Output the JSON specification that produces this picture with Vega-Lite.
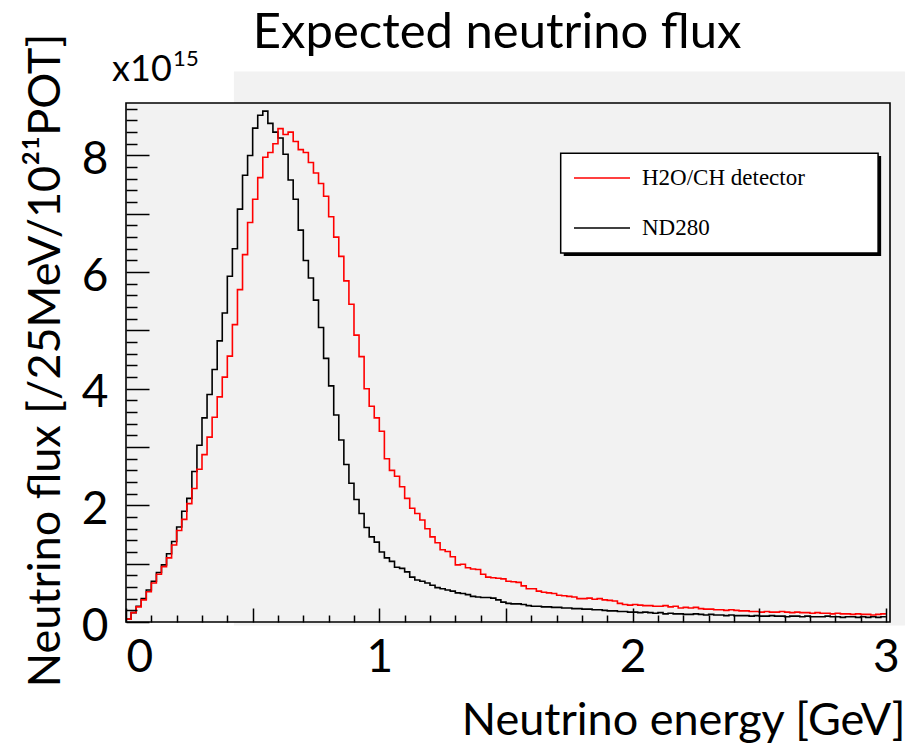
{
  "$schema": "https://vega.github.io/schema/vega-lite/v6.json",
  "width": 764,
  "height": 519,
  "autosize": "none",
  "padding": {"left": 126, "top": 103, "right": 16, "bottom": 124},
  "background": "white",
  "config": {
    "view": {"fill": "#f2f2f2", "stroke": null},
    "font": "Lato"
  },
  "datasets": {
    "flux": [
      {"e":0,"f":0.05,"s":"ND280"},{"e":0.02,"f":0.16,"s":"ND280"},{"e":0.04,"f":0.27,"s":"ND280"},{"e":0.06,"f":0.40,"s":"ND280"},{"e":0.08,"f":0.55,"s":"ND280"},
      {"e":0.1,"f":0.70,"s":"ND280"},{"e":0.12,"f":0.85,"s":"ND280"},{"e":0.14,"f":0.98,"s":"ND280"},{"e":0.16,"f":1.17,"s":"ND280"},{"e":0.18,"f":1.38,"s":"ND280"},
      {"e":0.2,"f":1.63,"s":"ND280"},{"e":0.22,"f":1.90,"s":"ND280"},{"e":0.24,"f":2.12,"s":"ND280"},{"e":0.26,"f":2.58,"s":"ND280"},{"e":0.28,"f":3.03,"s":"ND280"},
      {"e":0.3,"f":3.50,"s":"ND280"},{"e":0.32,"f":3.90,"s":"ND280"},{"e":0.34,"f":4.33,"s":"ND280"},{"e":0.36,"f":4.82,"s":"ND280"},{"e":0.38,"f":5.30,"s":"ND280"},
      {"e":0.4,"f":5.93,"s":"ND280"},{"e":0.42,"f":6.40,"s":"ND280"},{"e":0.44,"f":7.08,"s":"ND280"},{"e":0.46,"f":7.66,"s":"ND280"},{"e":0.48,"f":8.00,"s":"ND280"},
      {"e":0.5,"f":8.47,"s":"ND280"},{"e":0.52,"f":8.69,"s":"ND280"},{"e":0.54,"f":8.76,"s":"ND280"},{"e":0.56,"f":8.55,"s":"ND280"},{"e":0.58,"f":8.40,"s":"ND280"},
      {"e":0.6,"f":8.30,"s":"ND280"},{"e":0.62,"f":8.02,"s":"ND280"},{"e":0.64,"f":7.58,"s":"ND280"},{"e":0.66,"f":7.25,"s":"ND280"},{"e":0.68,"f":6.72,"s":"ND280"},
      {"e":0.7,"f":6.20,"s":"ND280"},{"e":0.72,"f":5.90,"s":"ND280"},{"e":0.74,"f":5.52,"s":"ND280"},{"e":0.76,"f":5.05,"s":"ND280"},{"e":0.78,"f":4.52,"s":"ND280"},
      {"e":0.8,"f":4.05,"s":"ND280"},{"e":0.82,"f":3.55,"s":"ND280"},{"e":0.84,"f":3.12,"s":"ND280"},{"e":0.86,"f":2.70,"s":"ND280"},{"e":0.88,"f":2.38,"s":"ND280"},
      {"e":0.9,"f":2.10,"s":"ND280"},{"e":0.92,"f":1.86,"s":"ND280"},{"e":0.94,"f":1.62,"s":"ND280"},{"e":0.96,"f":1.46,"s":"ND280"},{"e":0.98,"f":1.37,"s":"ND280"},
      {"e":1.0,"f":1.20,"s":"ND280"},{"e":1.02,"f":1.10,"s":"ND280"},{"e":1.04,"f":1.04,"s":"ND280"},{"e":1.06,"f":0.94,"s":"ND280"},{"e":1.08,"f":0.92,"s":"ND280"},
      {"e":1.1,"f":0.86,"s":"ND280"},{"e":1.12,"f":0.77,"s":"ND280"},{"e":1.14,"f":0.72,"s":"ND280"},{"e":1.16,"f":0.70,"s":"ND280"},{"e":1.18,"f":0.67,"s":"ND280"},
      {"e":1.2,"f":0.63,"s":"ND280"},{"e":1.22,"f":0.59,"s":"ND280"},{"e":1.24,"f":0.57,"s":"ND280"},{"e":1.26,"f":0.55,"s":"ND280"},{"e":1.28,"f":0.53,"s":"ND280"},
      {"e":1.3,"f":0.50,"s":"ND280"},{"e":1.32,"f":0.49,"s":"ND280"},{"e":1.34,"f":0.47,"s":"ND280"},{"e":1.36,"f":0.44,"s":"ND280"},{"e":1.38,"f":0.43,"s":"ND280"},
      {"e":1.4,"f":0.42,"s":"ND280"},{"e":1.42,"f":0.42,"s":"ND280"},{"e":1.44,"f":0.41,"s":"ND280"},{"e":1.46,"f":0.38,"s":"ND280"},{"e":1.48,"f":0.34,"s":"ND280"},
      {"e":1.5,"f":0.32,"s":"ND280"},{"e":1.52,"f":0.31,"s":"ND280"},{"e":1.54,"f":0.31,"s":"ND280"},{"e":1.56,"f":0.30,"s":"ND280"},{"e":1.58,"f":0.28,"s":"ND280"},
      {"e":1.6,"f":0.27,"s":"ND280"},{"e":1.62,"f":0.27,"s":"ND280"},{"e":1.64,"f":0.26,"s":"ND280"},{"e":1.66,"f":0.26,"s":"ND280"},{"e":1.68,"f":0.25,"s":"ND280"},
      {"e":1.7,"f":0.25,"s":"ND280"},{"e":1.72,"f":0.24,"s":"ND280"},{"e":1.74,"f":0.24,"s":"ND280"},{"e":1.76,"f":0.23,"s":"ND280"},{"e":1.78,"f":0.23,"s":"ND280"},
      {"e":1.8,"f":0.22,"s":"ND280"},{"e":1.82,"f":0.22,"s":"ND280"},{"e":1.84,"f":0.21,"s":"ND280"},{"e":1.86,"f":0.21,"s":"ND280"},{"e":1.88,"f":0.20,"s":"ND280"},
      {"e":1.9,"f":0.19,"s":"ND280"},{"e":1.92,"f":0.19,"s":"ND280"},{"e":1.94,"f":0.18,"s":"ND280"},{"e":1.96,"f":0.18,"s":"ND280"},{"e":1.98,"f":0.17,"s":"ND280"},
      {"e":2.0,"f":0.17,"s":"ND280"},{"e":2.02,"f":0.16,"s":"ND280"},{"e":2.04,"f":0.17,"s":"ND280"},{"e":2.06,"f":0.16,"s":"ND280"},{"e":2.08,"f":0.15,"s":"ND280"},
      {"e":2.1,"f":0.16,"s":"ND280"},{"e":2.12,"f":0.14,"s":"ND280"},{"e":2.14,"f":0.15,"s":"ND280"},{"e":2.16,"f":0.14,"s":"ND280"},{"e":2.18,"f":0.14,"s":"ND280"},
      {"e":2.2,"f":0.13,"s":"ND280"},{"e":2.22,"f":0.13,"s":"ND280"},{"e":2.24,"f":0.14,"s":"ND280"},{"e":2.26,"f":0.13,"s":"ND280"},{"e":2.28,"f":0.12,"s":"ND280"},
      {"e":2.3,"f":0.13,"s":"ND280"},{"e":2.32,"f":0.12,"s":"ND280"},{"e":2.34,"f":0.12,"s":"ND280"},{"e":2.36,"f":0.11,"s":"ND280"},{"e":2.38,"f":0.12,"s":"ND280"},
      {"e":2.4,"f":0.11,"s":"ND280"},{"e":2.42,"f":0.11,"s":"ND280"},{"e":2.44,"f":0.11,"s":"ND280"},{"e":2.46,"f":0.10,"s":"ND280"},{"e":2.48,"f":0.11,"s":"ND280"},
      {"e":2.5,"f":0.10,"s":"ND280"},{"e":2.52,"f":0.10,"s":"ND280"},{"e":2.54,"f":0.11,"s":"ND280"},{"e":2.56,"f":0.10,"s":"ND280"},{"e":2.58,"f":0.10,"s":"ND280"},
      {"e":2.6,"f":0.09,"s":"ND280"},{"e":2.62,"f":0.10,"s":"ND280"},{"e":2.64,"f":0.10,"s":"ND280"},{"e":2.66,"f":0.09,"s":"ND280"},{"e":2.68,"f":0.10,"s":"ND280"},
      {"e":2.7,"f":0.09,"s":"ND280"},{"e":2.72,"f":0.09,"s":"ND280"},{"e":2.74,"f":0.09,"s":"ND280"},{"e":2.76,"f":0.10,"s":"ND280"},{"e":2.78,"f":0.09,"s":"ND280"},
      {"e":2.8,"f":0.09,"s":"ND280"},{"e":2.82,"f":0.08,"s":"ND280"},{"e":2.84,"f":0.09,"s":"ND280"},{"e":2.86,"f":0.09,"s":"ND280"},{"e":2.88,"f":0.08,"s":"ND280"},
      {"e":2.9,"f":0.09,"s":"ND280"},{"e":2.92,"f":0.08,"s":"ND280"},{"e":2.94,"f":0.09,"s":"ND280"},{"e":2.96,"f":0.08,"s":"ND280"},{"e":2.98,"f":0.09,"s":"ND280"},
      {"e":3.0,"f":0.09,"s":"ND280"},
      {"e":0,"f":0.05,"s":"H2O/CH detector"},{"e":0.02,"f":0.16,"s":"H2O/CH detector"},{"e":0.04,"f":0.26,"s":"H2O/CH detector"},{"e":0.06,"f":0.38,"s":"H2O/CH detector"},{"e":0.08,"f":0.52,"s":"H2O/CH detector"},
      {"e":0.1,"f":0.67,"s":"H2O/CH detector"},{"e":0.12,"f":0.82,"s":"H2O/CH detector"},{"e":0.14,"f":0.95,"s":"H2O/CH detector"},{"e":0.16,"f":1.10,"s":"H2O/CH detector"},{"e":0.18,"f":1.32,"s":"H2O/CH detector"},
      {"e":0.2,"f":1.57,"s":"H2O/CH detector"},{"e":0.22,"f":1.76,"s":"H2O/CH detector"},{"e":0.24,"f":2.03,"s":"H2O/CH detector"},{"e":0.26,"f":2.29,"s":"H2O/CH detector"},{"e":0.28,"f":2.62,"s":"H2O/CH detector"},
      {"e":0.3,"f":2.87,"s":"H2O/CH detector"},{"e":0.32,"f":3.17,"s":"H2O/CH detector"},{"e":0.34,"f":3.51,"s":"H2O/CH detector"},{"e":0.36,"f":3.86,"s":"H2O/CH detector"},{"e":0.38,"f":4.20,"s":"H2O/CH detector"},
      {"e":0.4,"f":4.56,"s":"H2O/CH detector"},{"e":0.42,"f":5.10,"s":"H2O/CH detector"},{"e":0.44,"f":5.70,"s":"H2O/CH detector"},{"e":0.46,"f":6.30,"s":"H2O/CH detector"},{"e":0.48,"f":6.85,"s":"H2O/CH detector"},
      {"e":0.5,"f":7.25,"s":"H2O/CH detector"},{"e":0.52,"f":7.62,"s":"H2O/CH detector"},{"e":0.54,"f":7.97,"s":"H2O/CH detector"},{"e":0.56,"f":8.05,"s":"H2O/CH detector"},{"e":0.58,"f":8.20,"s":"H2O/CH detector"},
      {"e":0.6,"f":8.46,"s":"H2O/CH detector"},{"e":0.62,"f":8.36,"s":"H2O/CH detector"},{"e":0.64,"f":8.40,"s":"H2O/CH detector"},{"e":0.66,"f":8.24,"s":"H2O/CH detector"},{"e":0.68,"f":8.10,"s":"H2O/CH detector"},
      {"e":0.7,"f":8.05,"s":"H2O/CH detector"},{"e":0.72,"f":7.88,"s":"H2O/CH detector"},{"e":0.74,"f":7.70,"s":"H2O/CH detector"},{"e":0.76,"f":7.52,"s":"H2O/CH detector"},{"e":0.78,"f":7.30,"s":"H2O/CH detector"},
      {"e":0.8,"f":6.95,"s":"H2O/CH detector"},{"e":0.82,"f":6.60,"s":"H2O/CH detector"},{"e":0.84,"f":6.27,"s":"H2O/CH detector"},{"e":0.86,"f":5.85,"s":"H2O/CH detector"},{"e":0.88,"f":5.45,"s":"H2O/CH detector"},
      {"e":0.9,"f":4.92,"s":"H2O/CH detector"},{"e":0.92,"f":4.55,"s":"H2O/CH detector"},{"e":0.94,"f":4.00,"s":"H2O/CH detector"},{"e":0.96,"f":3.70,"s":"H2O/CH detector"},{"e":0.98,"f":3.50,"s":"H2O/CH detector"},
      {"e":1.0,"f":3.27,"s":"H2O/CH detector"},{"e":1.02,"f":2.80,"s":"H2O/CH detector"},{"e":1.04,"f":2.60,"s":"H2O/CH detector"},{"e":1.06,"f":2.50,"s":"H2O/CH detector"},{"e":1.08,"f":2.32,"s":"H2O/CH detector"},
      {"e":1.1,"f":2.12,"s":"H2O/CH detector"},{"e":1.12,"f":1.95,"s":"H2O/CH detector"},{"e":1.14,"f":1.86,"s":"H2O/CH detector"},{"e":1.16,"f":1.75,"s":"H2O/CH detector"},{"e":1.18,"f":1.60,"s":"H2O/CH detector"},
      {"e":1.2,"f":1.46,"s":"H2O/CH detector"},{"e":1.22,"f":1.36,"s":"H2O/CH detector"},{"e":1.24,"f":1.24,"s":"H2O/CH detector"},{"e":1.26,"f":1.21,"s":"H2O/CH detector"},{"e":1.28,"f":1.12,"s":"H2O/CH detector"},
      {"e":1.3,"f":0.98,"s":"H2O/CH detector"},{"e":1.32,"f":0.99,"s":"H2O/CH detector"},{"e":1.34,"f":0.93,"s":"H2O/CH detector"},{"e":1.36,"f":0.91,"s":"H2O/CH detector"},{"e":1.38,"f":0.90,"s":"H2O/CH detector"},
      {"e":1.4,"f":0.82,"s":"H2O/CH detector"},{"e":1.42,"f":0.77,"s":"H2O/CH detector"},{"e":1.44,"f":0.76,"s":"H2O/CH detector"},{"e":1.46,"f":0.75,"s":"H2O/CH detector"},{"e":1.48,"f":0.74,"s":"H2O/CH detector"},
      {"e":1.5,"f":0.70,"s":"H2O/CH detector"},{"e":1.52,"f":0.69,"s":"H2O/CH detector"},{"e":1.54,"f":0.68,"s":"H2O/CH detector"},{"e":1.56,"f":0.62,"s":"H2O/CH detector"},{"e":1.58,"f":0.57,"s":"H2O/CH detector"},
      {"e":1.6,"f":0.57,"s":"H2O/CH detector"},{"e":1.62,"f":0.53,"s":"H2O/CH detector"},{"e":1.64,"f":0.51,"s":"H2O/CH detector"},{"e":1.66,"f":0.50,"s":"H2O/CH detector"},{"e":1.68,"f":0.49,"s":"H2O/CH detector"},
      {"e":1.7,"f":0.46,"s":"H2O/CH detector"},{"e":1.72,"f":0.45,"s":"H2O/CH detector"},{"e":1.74,"f":0.44,"s":"H2O/CH detector"},{"e":1.76,"f":0.43,"s":"H2O/CH detector"},{"e":1.78,"f":0.40,"s":"H2O/CH detector"},
      {"e":1.8,"f":0.40,"s":"H2O/CH detector"},{"e":1.82,"f":0.41,"s":"H2O/CH detector"},{"e":1.84,"f":0.39,"s":"H2O/CH detector"},{"e":1.86,"f":0.40,"s":"H2O/CH detector"},{"e":1.88,"f":0.38,"s":"H2O/CH detector"},
      {"e":1.9,"f":0.37,"s":"H2O/CH detector"},{"e":1.92,"f":0.36,"s":"H2O/CH detector"},{"e":1.94,"f":0.32,"s":"H2O/CH detector"},{"e":1.96,"f":0.30,"s":"H2O/CH detector"},{"e":1.98,"f":0.29,"s":"H2O/CH detector"},
      {"e":2.0,"f":0.30,"s":"H2O/CH detector"},{"e":2.02,"f":0.29,"s":"H2O/CH detector"},{"e":2.04,"f":0.28,"s":"H2O/CH detector"},{"e":2.06,"f":0.28,"s":"H2O/CH detector"},{"e":2.08,"f":0.27,"s":"H2O/CH detector"},
      {"e":2.1,"f":0.27,"s":"H2O/CH detector"},{"e":2.12,"f":0.28,"s":"H2O/CH detector"},{"e":2.14,"f":0.26,"s":"H2O/CH detector"},{"e":2.16,"f":0.27,"s":"H2O/CH detector"},{"e":2.18,"f":0.24,"s":"H2O/CH detector"},
      {"e":2.2,"f":0.25,"s":"H2O/CH detector"},{"e":2.22,"f":0.24,"s":"H2O/CH detector"},{"e":2.24,"f":0.25,"s":"H2O/CH detector"},{"e":2.26,"f":0.23,"s":"H2O/CH detector"},{"e":2.28,"f":0.22,"s":"H2O/CH detector"},
      {"e":2.3,"f":0.22,"s":"H2O/CH detector"},{"e":2.32,"f":0.21,"s":"H2O/CH detector"},{"e":2.34,"f":0.21,"s":"H2O/CH detector"},{"e":2.36,"f":0.20,"s":"H2O/CH detector"},{"e":2.38,"f":0.21,"s":"H2O/CH detector"},
      {"e":2.4,"f":0.20,"s":"H2O/CH detector"},{"e":2.42,"f":0.19,"s":"H2O/CH detector"},{"e":2.44,"f":0.19,"s":"H2O/CH detector"},{"e":2.46,"f":0.18,"s":"H2O/CH detector"},{"e":2.48,"f":0.18,"s":"H2O/CH detector"},
      {"e":2.5,"f":0.17,"s":"H2O/CH detector"},{"e":2.52,"f":0.18,"s":"H2O/CH detector"},{"e":2.54,"f":0.17,"s":"H2O/CH detector"},{"e":2.56,"f":0.17,"s":"H2O/CH detector"},{"e":2.58,"f":0.18,"s":"H2O/CH detector"},
      {"e":2.6,"f":0.17,"s":"H2O/CH detector"},{"e":2.62,"f":0.16,"s":"H2O/CH detector"},{"e":2.64,"f":0.17,"s":"H2O/CH detector"},{"e":2.66,"f":0.16,"s":"H2O/CH detector"},{"e":2.68,"f":0.16,"s":"H2O/CH detector"},
      {"e":2.7,"f":0.15,"s":"H2O/CH detector"},{"e":2.72,"f":0.16,"s":"H2O/CH detector"},{"e":2.74,"f":0.15,"s":"H2O/CH detector"},{"e":2.76,"f":0.15,"s":"H2O/CH detector"},{"e":2.78,"f":0.14,"s":"H2O/CH detector"},
      {"e":2.8,"f":0.15,"s":"H2O/CH detector"},{"e":2.82,"f":0.14,"s":"H2O/CH detector"},{"e":2.84,"f":0.14,"s":"H2O/CH detector"},{"e":2.86,"f":0.13,"s":"H2O/CH detector"},{"e":2.88,"f":0.14,"s":"H2O/CH detector"},
      {"e":2.9,"f":0.13,"s":"H2O/CH detector"},{"e":2.92,"f":0.13,"s":"H2O/CH detector"},{"e":2.94,"f":0.12,"s":"H2O/CH detector"},{"e":2.96,"f":0.13,"s":"H2O/CH detector"},{"e":2.98,"f":0.14,"s":"H2O/CH detector"},
      {"e":3.0,"f":0.14,"s":"H2O/CH detector"}
    ]
  },
  "layer": [
    {
      "data": {"values": [{}]},
      "mark": {"type": "rect", "fill": "#f2f2f2"},
      "encoding": {
        "x": {"datum": 0.426, "type": "quantitative"},
        "x2": {"datum": 3.075},
        "y": {"datum": 9.44, "type": "quantitative"},
        "y2": {"datum": -0.06}
      }
    },
    {
      "data": {"name": "flux"},
      "mark": {"type": "line", "interpolate": "step-after", "strokeWidth": 1.6, "clip": true},
      "encoding": {
        "x": {
          "field": "e", "type": "quantitative",
          "scale": {"domain": [0, 3.016], "nice": false, "zero": false},
          "axis": {
            "title": "Neutrino energy [GeV]",
            "titleFont": "Lato", "titleFontSize": 45, "titleFontWeight": "normal", "titleColor": "black",
            "titleAnchor": "end", "titleAlign": "right", "titleBaseline": "middle",
            "titleX": 779, "titleY": 98,
            "tickCount": 200,
            "values": [0,0.1,0.2,0.3,0.4,0.5,0.6,0.7,0.8,0.9,1,1.1,1.2,1.3,1.4,1.5,1.6,1.7,1.8,1.9,2,2.1,2.2,2.3,2.4,2.5,2.6,2.7,2.8,2.9,3],
            "labelExpr": "datum.value % 1 === 0 ? format(datum.value, 'd') : ''",
            "labelFont": "Lato", "labelColor": "black",
            "labelFontSize": {"condition": {"test": "datum.value % 1 === 0", "value": 46}, "value": 0},
            "labelFlush": 1, "labelOverlap": false, "labelPadding": 27,
            "domain": false, "grid": false, "zindex": 1,
            "tickColor": "black", "tickWidth": 1.5,
            "tickSize": {"condition": {"test": "datum.value % 0.5 === 0", "value": -14}, "value": -7}
          }
        },
        "y": {
          "field": "f", "type": "quantitative",
          "scale": {"domain": [0, 8.9], "nice": false},
          "axis": {
            "title": "Neutrino flux [/25MeV/10²¹POT]",
            "titleFont": "Lato", "titleFontSize": 45, "titleFontWeight": "normal", "titleColor": "black",
            "titleAngle": -90, "titleAlign": "center", "titleBaseline": "middle",
            "titleX": -81, "titleY": 257,
            "tickCount": 200,
            "values": [0,0.2,0.4,0.6,0.8,1,1.2,1.4,1.6,1.8,2,2.2,2.4,2.6,2.8,3,3.2,3.4,3.6,3.8,4,4.2,4.4,4.6,4.8,5,5.2,5.4,5.6,5.8,6,6.2,6.4,6.6,6.8,7,7.2,7.4,7.6,7.8,8,8.2,8.4,8.6,8.8],
            "labelExpr": "datum.value % 2 === 0 ? format(datum.value, 'd') : ''",
            "labelFont": "Lato", "labelColor": "black",
            "labelFontSize": {"condition": {"test": "datum.value % 2 === 0", "value": 46}, "value": 0},
            "labelOverlap": false, "labelPadding": 41, "labelOffset": 4,
            "domain": false, "grid": false, "zindex": 1,
            "tickColor": "black", "tickWidth": 1.5,
            "tickSize": {"condition": {"test": "datum.value % 1 === 0", "value": -23}, "value": -11}
          }
        },
        "color": {
          "field": "s", "type": "nominal",
          "scale": {"domain": ["H2O/CH detector", "ND280"], "range": ["#ff0000", "#000000"]},
          "legend": {
            "orient": "none", "legendX": 447, "legendY": 46,
            "title": null, "symbolType": "stroke", "symbolSize": 3136, "symbolStrokeWidth": 1.6,
            "labelFont": "Liberation Serif", "labelFontSize": 23, "labelColor": "black",
            "labelOffset": 11, "labelLimit": 300, "rowPadding": 9, "padding": 0
          }
        }
      }
    },
    {
      "data": {"values": [{}]},
      "mark": {"type": "rect", "filled": false, "stroke": "black", "strokeWidth": 1.6},
      "encoding": {
        "x": {"datum": 0, "type": "quantitative"},
        "x2": {"datum": 3.016},
        "y": {"datum": 8.9, "type": "quantitative"},
        "y2": {"datum": 0}
      }
    },
    {
      "data": {"values": [{}]},
      "mark": {"type": "rect", "fill": "black"},
      "encoding": {
        "x": {"datum": 1.728, "type": "quantitative"},
        "x2": {"datum": 2.981},
        "y": {"datum": 7.989, "type": "quantitative"},
        "y2": {"datum": 6.275}
      }
    },
    {
      "data": {"values": [{}]},
      "mark": {"type": "rect", "fill": "white", "stroke": "black", "strokeWidth": 1.5},
      "encoding": {
        "x": {"datum": 1.716, "type": "quantitative"},
        "x2": {"datum": 2.969},
        "y": {"datum": 8.04, "type": "quantitative"},
        "y2": {"datum": 6.326}
      }
    },
    {
      "data": {"values": [{}]},
      "mark": {"type": "text", "text": "Expected neutrino flux", "font": "Lato", "fontSize": 49, "align": "center", "baseline": "alphabetic", "color": "black"},
      "encoding": {
        "x": {"datum": 1.465, "type": "quantitative"},
        "y": {"datum": 9.85, "type": "quantitative"}
      }
    },
    {
      "data": {"values": [{}]},
      "mark": {"type": "text", "text": "x10", "font": "Lato", "fontSize": 36, "align": "left", "baseline": "alphabetic", "color": "black"},
      "encoding": {
        "x": {"datum": -0.055, "type": "quantitative"},
        "y": {"datum": 9.27, "type": "quantitative"}
      }
    },
    {
      "data": {"values": [{}]},
      "mark": {"type": "text", "text": "15", "font": "Lato", "fontSize": 22, "align": "left", "baseline": "alphabetic", "color": "black"},
      "encoding": {
        "x": {"datum": 0.186, "type": "quantitative"},
        "y": {"datum": 9.527, "type": "quantitative"}
      }
    }
  ]
}
